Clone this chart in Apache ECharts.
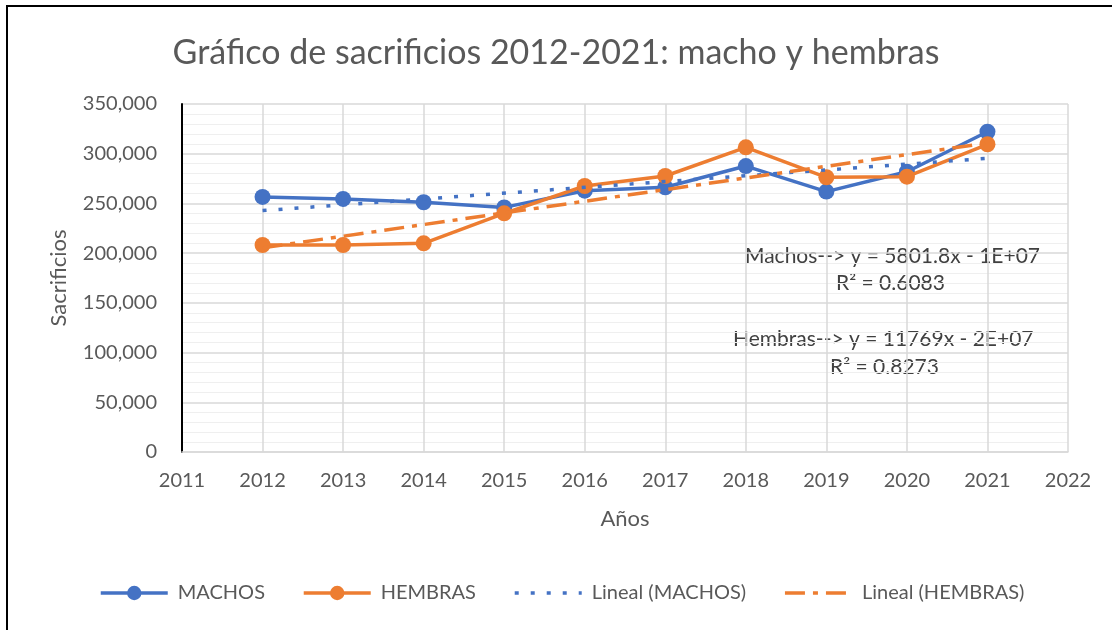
<!DOCTYPE html>
<html>
<head>
<meta charset="utf-8">
<script src="https://cdn.jsdelivr.net/npm/echarts@6/dist/echarts.min.js"></script>
<style>
  html, body { margin: 0; padding: 0; background: #fff; }
  #chart { width: 1112px; height: 630px; }
</style>
</head>
<body>
<div id="chart"></div>
<script>
// años y sacrificios
const years = [2012, 2013, 2014, 2015, 2016, 2017, 2018, 2019, 2020, 2021];
const machos = [256500, 254500, 251200, 246000, 262800, 266300, 287600, 261900, 281900, 322100];
const hembras = [208200, 208200, 209900, 240000, 267500, 277600, 306400, 276300, 276900, 309500];

const FONT = 'Lato, "Open Sans", sans-serif';
const GREY = '#595959';

// recta de tendencia lineal (mínimos cuadrados), como la de Excel
const trend = (xs, ys) => {
    const n = xs.length
    const mx = xs.reduce((a, b) => a + b, 0) / n
    const my = ys.reduce((a, b) => a + b, 0) / n
    let sxy = 0, sxx = 0
    xs.forEach((x, i) => {
        sxy += (x - mx) * (ys[i] - my)
        sxx += (x - mx) * (x - mx)
    })
    const m = sxy / sxx
    const b = my - m * mx
    const x0 = xs[0], x1 = xs[n - 1]
    return [[x0, m * x0 + b], [x1, m * x1 + b]]
}

const pairs = (ys) => years.map((y, i) => [y, ys[i]])

const chart = echarts.init(document.getElementById('chart'));

const option = {
    animation: false,
    backgroundColor: '#fff',
    title: {
        text: 'Gráfico de sacrificios 2012-2021: macho y hembras',
        left: 'center',
        top: 31,
        textStyle: { fontFamily: FONT, fontSize: 34, fontWeight: 'normal', color: GREY }
    },
    grid: { left: 182, right: 44, top: 104, bottom: 178 },
    legend: {
        left: 94,
        top: 578,
        itemWidth: 67,
        itemHeight: 18,
        itemGap: 37,
        textStyle: { fontFamily: FONT, fontSize: 20, color: GREY, padding: [0, 0, 0, 5] },
        data: [
            { name: 'MACHOS', lineStyle: { width: 3.5 } },
            { name: 'HEMBRAS', lineStyle: { width: 3.5 } },
            { name: 'Lineal (MACHOS)', lineStyle: { width: 3.5 }, itemStyle: { opacity: 0 } },
            { name: 'Lineal (HEMBRAS)', lineStyle: { width: 3.5 }, itemStyle: { opacity: 0 } }
        ]
    },
    xAxis: {
        type: 'value',
        min: 2011,
        max: 2022,
        interval: 1,
        name: 'Años',
        nameLocation: 'middle',
        nameGap: 56,
        nameTextStyle: { fontFamily: FONT, fontSize: 22, color: GREY },
        axisLine: { show: true, lineStyle: { color: '#d9d9d9', width: 1.5 } },
        axisTick: { show: false },
        axisLabel: { fontFamily: FONT, fontSize: 20, color: GREY, margin: 19, formatter: (v) => String(v) },
        splitLine: { show: true, lineStyle: { color: '#d9d9d9', width: 1.5 } }
    },
    yAxis: {
        type: 'value',
        min: 0,
        max: 350000,
        interval: 50000,
        name: 'Sacrificios',
        nameLocation: 'middle',
        nameGap: 112,
        nameTextStyle: { fontFamily: FONT, fontSize: 22, color: GREY },
        axisLine: { show: true, lineStyle: { color: '#000', width: 2 } },
        axisTick: { show: false },
        axisLabel: { fontFamily: FONT, fontSize: 20, color: GREY, margin: 25, formatter: (v) => v.toLocaleString('en-US') },
        splitLine: { show: true, lineStyle: { color: '#d9d9d9', width: 1.5 } },
        minorTick: { show: false, splitNumber: 5 },
        minorSplitLine: { show: true, lineStyle: { color: '#efefef', width: 1 } }
    },
    series: [
        {
            name: 'MACHOS',
            type: 'line',
            data: pairs(machos),
            color: '#4472C4',
            symbol: 'circle',
            symbolSize: 16,
            lineStyle: { width: 3.5 },
            z: 3
        },
        {
            name: 'HEMBRAS',
            type: 'line',
            data: pairs(hembras),
            color: '#ED7D31',
            symbol: 'circle',
            symbolSize: 16,
            lineStyle: { width: 3.5 },
            z: 4
        },
        {
            name: 'Lineal (MACHOS)',
            type: 'line',
            data: trend(years, machos),
            color: '#4472C4',
            symbol: 'none',
            lineStyle: { width: 3.5, type: [4, 12] },
            z: 5
        },
        {
            name: 'Lineal (HEMBRAS)',
            type: 'line',
            data: trend(years, hembras),
            color: '#ED7D31',
            symbol: 'none',
            lineStyle: { width: 3.5, type: [20, 8, 5, 8] },
            z: 5
        }
    ],
    graphic: [
        {
            type: 'rect',
            shape: { x: 7, y: 6, width: 1110, height: 630 },
            style: { fill: 'none', stroke: '#000', lineWidth: 2 },
            silent: true
        },
        {
            type: 'text', left: 745, top: 246,
            style: { text: 'Machos--> y = 5801.8x - 1E+07', font: '21px ' + FONT, fill: '#404040' }
        },
        {
            type: 'text', left: 836, top: 273,
            style: { text: 'R² = 0.6083', font: '21px ' + FONT, fill: '#404040' }
        },
        {
            type: 'text', left: 733, top: 329,
            style: { text: 'Hembras--> y = 11769x - 2E+07', font: '21px ' + FONT, fill: '#404040' }
        },
        {
            type: 'text', left: 830, top: 357,
            style: { text: 'R² = 0.8273', font: '21px ' + FONT, fill: '#404040' }
        }
    ]
};

chart.setOption(option);
</script>
</body>
</html>
